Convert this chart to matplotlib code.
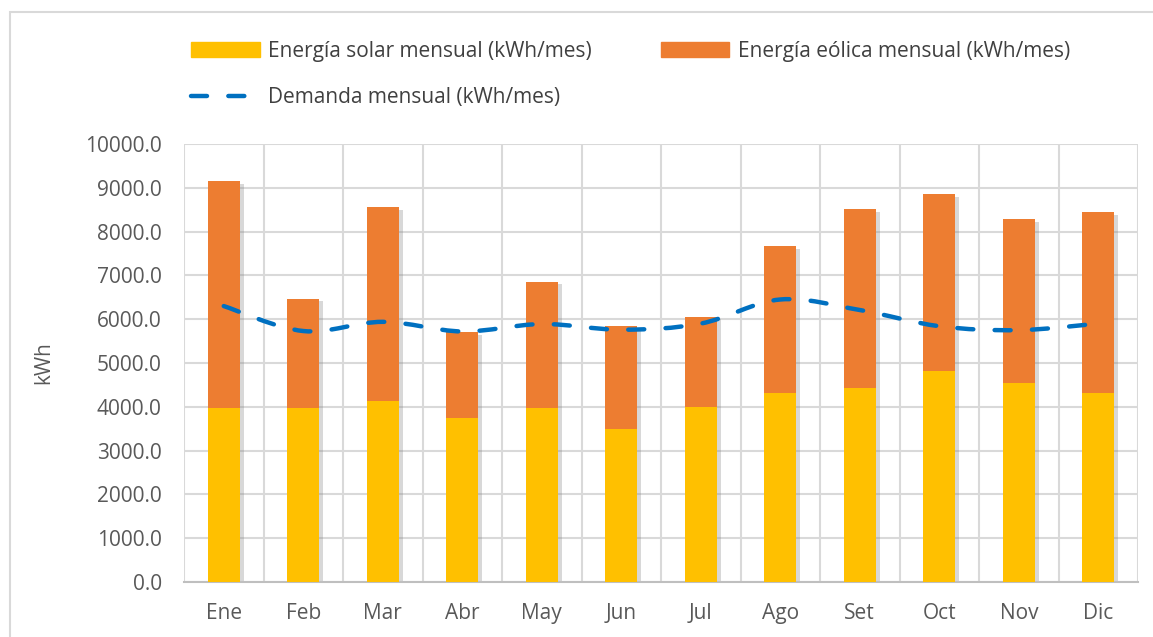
import numpy as np
import matplotlib
matplotlib.use('Agg')
import matplotlib.pyplot as plt
import matplotlib.patheffects as pe
from matplotlib.path import Path
from matplotlib.patches import PathPatch, Rectangle, Patch
from matplotlib.lines import Line2D

plt.rcParams['font.family'] = ['Open Sans', 'DejaVu Sans']

meses = ['Ene', 'Feb', 'Mar', 'Abr', 'May', 'Jun', 'Jul', 'Ago', 'Set', 'Oct', 'Nov', 'Dic']
solar = [3980, 3980, 4140, 3750, 3975, 3490, 4000, 4310, 4420, 4820, 4550, 4310]
total = [9160, 6470, 8560, 5700, 6860, 5850, 6060, 7660, 8510, 8850, 8290, 8450]
demanda = [6300, 5730, 5940, 5720, 5890, 5760, 5900, 6450, 6210, 5840, 5750, 5900]
eolica = [t - s for t, s in zip(total, solar)]

c_solar = '#FFC000'
c_eolica = '#ED7D31'
c_dem = '#0070C0'
c_grid = '#D9D9D9'
c_txt = '#595959'

fig = plt.figure(figsize=(11.53, 6.37), dpi=100)
ax = fig.add_axes([184 / 1153, 1 - 582 / 637, (1138 - 184) / 1153, (582 - 144) / 637])

# marco exterior del grafico
fig.patches.append(Rectangle((10 / 1153, -0.01), 1.0, 1 - 12 / 637 + 0.01, transform=fig.transFigure,
                             fill=False, edgecolor=c_grid, linewidth=1.5))

x = np.arange(len(meses))
# sombra de la barra completa, detras de las barras apiladas
sombra = ax.bar(x, total, width=0.4, color='white', zorder=2)
for r in sombra:
    r.set_path_effects([pe.SimplePatchShadow(offset=(3, -2), shadow_rgbFace='#808080', alpha=0.3)])
ax.bar(x, solar, width=0.4, color=c_solar, zorder=3)
ax.bar(x, eolica, width=0.4, bottom=solar, color=c_eolica, zorder=3)

# linea suavizada (curva tipo Catmull-Rom, como Excel)
pts = np.column_stack([x, demanda]).astype(float)
ext = np.vstack([pts[0], pts, pts[-1]])
verts = [pts[0]]
codes = [Path.MOVETO]
for i in range(len(pts) - 1):
    p0, p1, p2, p3 = ext[i], ext[i + 1], ext[i + 2], ext[i + 3]
    verts += [p1 + (p2 - p0) / 6, p2 - (p3 - p1) / 6, p2]
    codes += [Path.CURVE4] * 3
dash = (0, (3.6, 4.8))
ax.add_patch(PathPatch(Path(verts, codes), fill=False, edgecolor=c_dem, linewidth=3.2,
                       linestyle=dash, capstyle='round', zorder=4))

ax.set_xlim(-0.5, len(meses) - 0.5)
ax.set_ylim(0, 10000)
ax.set_yticks(np.arange(0, 10001, 1000))
ax.yaxis.set_major_formatter(matplotlib.ticker.FormatStrFormatter('%.1f'))
ax.set_xticks(x)
ax.set_xticklabels(meses)
ax.set_xticks(np.arange(-0.5, len(meses), 1), minor=True)
ax.grid(axis='y', which='major', color=c_grid, linewidth=1.5, zorder=0)
ax.grid(axis='x', which='minor', color=c_grid, linewidth=1.5, zorder=0)
ax.tick_params(which='both', length=0)
ax.tick_params(axis='both', labelsize=15, labelcolor=c_txt)
ax.tick_params(axis='x', pad=15)
ax.tick_params(axis='y', pad=16)
for s in ['top', 'right', 'left']:
    ax.spines[s].set_visible(False)
ax.spines['bottom'].set_color('#BFBFBF')
ax.spines['bottom'].set_linewidth(1.5)
ax.set_ylabel('kWh', fontsize=15, color=c_txt, labelpad=22)

handles = [Patch(color=c_solar),
           Line2D([], [], color=c_dem, linewidth=3.2, linestyle=dash, dash_capstyle='round'),
           Patch(color=c_eolica)]
labels = ['Energía solar mensual (kWh/mes)', 'Demanda mensual (kWh/mes)', 'Energía eólica mensual (kWh/mes)']
fig.legend(handles, labels, ncol=2, loc='upper left', bbox_to_anchor=(191 / 1153, 1 - 41 / 637),
           frameon=False, fontsize=15, labelcolor='#404040', handlelength=3.3, handletextpad=0.4,
           columnspacing=3.3, labelspacing=1.2, borderpad=0, borderaxespad=0)

fig.savefig('out.png', dpi=100)
